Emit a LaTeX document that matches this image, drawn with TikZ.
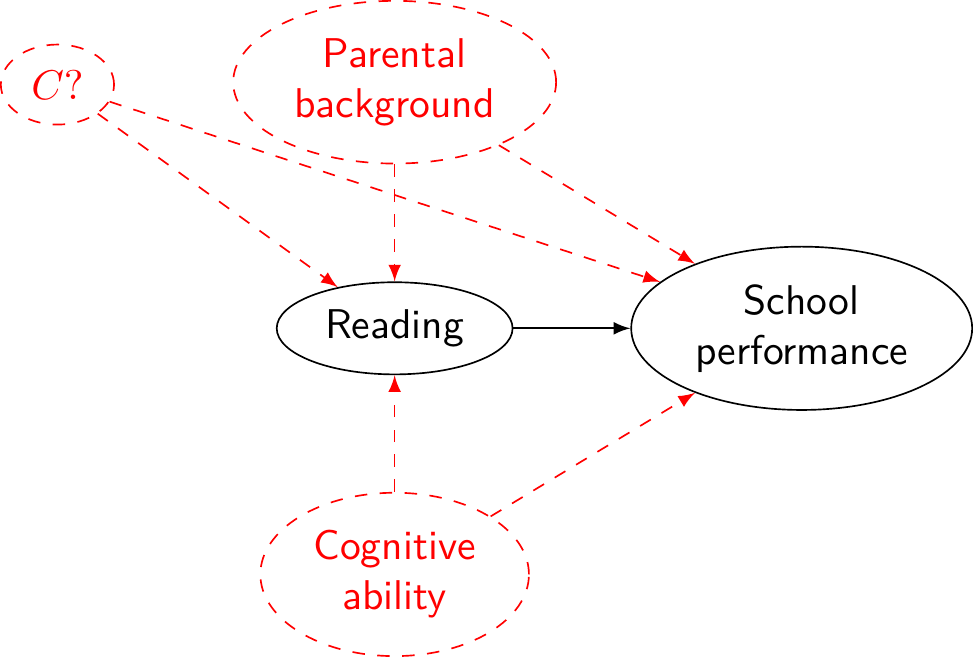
\documentclass[tikz,border=0pt]{standalone}
\usetikzlibrary{shapes.geometric}
\tikzset{
  var/.style={draw, ellipse, align=center, font=\sffamily},
  latent/.style={var, red, dashed},
  cause/.style={-latex, red, dashed},
}
\begin{document}
\begin{tikzpicture}
\node[var] (R) at (0,0) {Reading};
\node[var] (S) at (3.44,0) {School\\performance};
\node[latent] (P) at (0,2.08) {Parental\\background};
\node[latent] (A) at (0,-2.08) {Cognitive\\ability};
\node[latent] (C) at (-2.85,2.06) {$C?$};
\draw[-latex] (R) -- (S);
\draw[cause] (P) -- (R);
\draw[cause] (P) -- (S);
\draw[cause] (C) -- (R);
\draw[cause] (C) -- (S);
\draw[cause] (A) -- (R);
\draw[cause] (A) -- (S);
\end{tikzpicture}
\end{document}
